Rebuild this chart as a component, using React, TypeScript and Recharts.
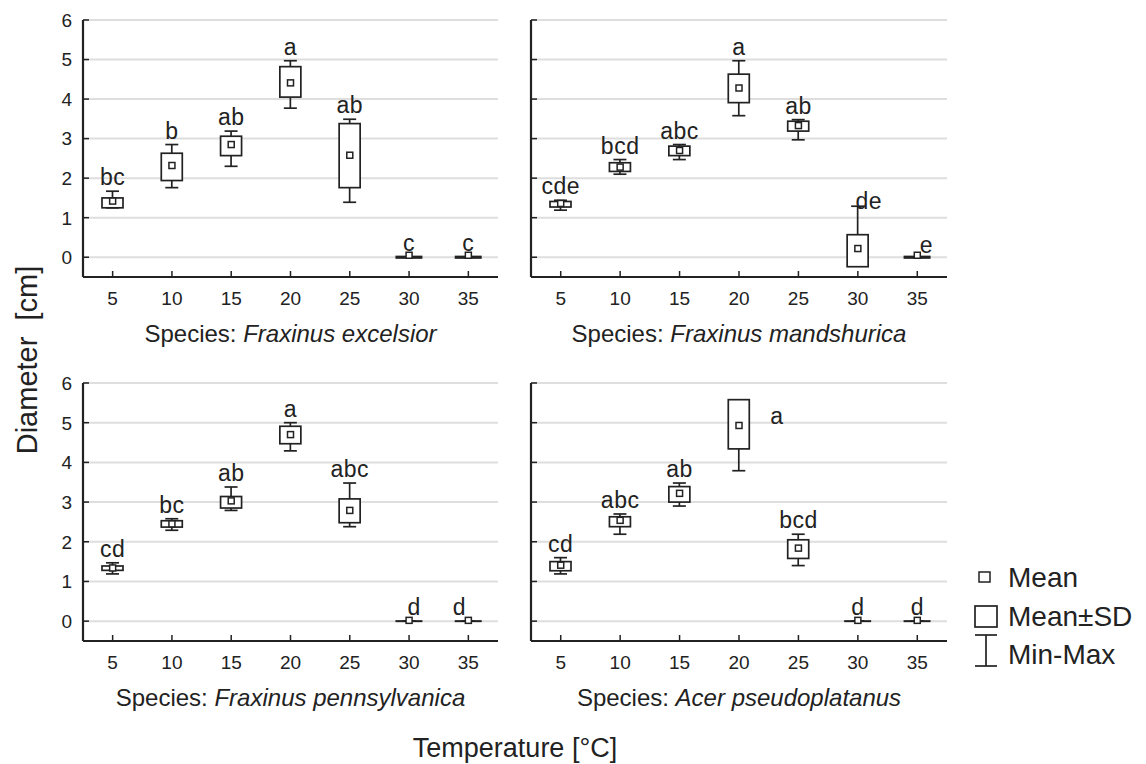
import React from "react";
import { ComposedChart, Bar, Scatter, XAxis, YAxis, CartesianGrid } from "recharts";

// temperatures on the x axis (°C)
const TEMPS = [5, 10, 15, 20, 25, 30, 35];
const Y_TICKS = [0, 1, 2, 3, 4, 5, 6];

// Fraxinus excelsior
const FE_MEAN = [1.42, 2.32, 2.85, 4.41, 2.58, 0.05, 0.05];
const FE_SD_LO = [1.25, 1.94, 2.57, 4.05, 1.76, 0, 0];
const FE_SD_HI = [1.5, 2.63, 3.06, 4.82, 3.38, 0, 0];
const FE_MIN = [1.25, 1.76, 2.3, 3.77, 1.39, 0, 0];
const FE_MAX = [1.67, 2.85, 3.19, 4.97, 3.49, 0, 0];
const FE_LETTERS = ["bc", "b", "ab", "a", "ab", "c", "c"];

// Fraxinus mandshurica
const FM_MEAN = [1.36, 2.28, 2.7, 4.28, 3.33, 0.22, 0.05];
const FM_SD_LO = [1.27, 2.17, 2.57, 3.91, 3.19, -0.24, 0];
const FM_SD_HI = [1.41, 2.39, 2.81, 4.63, 3.44, 0.57, 0];
const FM_MIN = [1.19, 2.1, 2.47, 3.58, 2.97, 0, 0];
const FM_MAX = [1.44, 2.47, 2.85, 4.97, 3.48, 1.29, 0];
const FM_LETTERS = ["cde", "bcd", "abc", "a", "ab", "de", "e"];

// Fraxinus pennsylvanica
const FP_MEAN = [1.34, 2.45, 3.03, 4.7, 2.79, 0.02, 0.02];
const FP_SD_LO = [1.28, 2.37, 2.85, 4.47, 2.48, 0, 0];
const FP_SD_HI = [1.39, 2.53, 3.14, 4.91, 3.08, 0, 0];
const FP_MIN = [1.19, 2.29, 2.79, 4.29, 2.38, 0, 0];
const FP_MAX = [1.47, 2.58, 3.38, 5.0, 3.48, 0, 0];
const FP_LETTERS = ["cd", "bc", "ab", "a", "abc", "d", "d"];

// Acer pseudoplatanus
const AP_MEAN = [1.41, 2.54, 3.22, 4.93, 1.84, 0.02, 0.02];
const AP_SD_LO = [1.27, 2.38, 3.0, 4.34, 1.58, 0, 0];
const AP_SD_HI = [1.5, 2.63, 3.39, 5.58, 2.05, 0, 0];
const AP_MIN = [1.19, 2.19, 2.9, 3.79, 1.4, 0, 0];
const AP_MAX = [1.6, 2.7, 3.48, 5.5, 2.19, 0, 0];
const AP_LETTERS = ["cd", "abc", "ab", "a", "bcd", "d", "d"];

const FONT = "'Liberation Sans', Arial, Helvetica, sans-serif";
const INK = "#222";

const buildRows = (mean: number[], lo: number[], hi: number[], mn: number[], mx: number[], letters: string[]) =>
  TEMPS.map((t, i) => ({ t, mean: mean[i], sdLo: lo[i], sdHi: hi[i], min: mn[i], max: mx[i], letter: letters[i] }));

const PANELS = [
  { species: "Fraxinus excelsior", rows: buildRows(FE_MEAN, FE_SD_LO, FE_SD_HI, FE_MIN, FE_MAX, FE_LETTERS), left: 0, top: 0, labels: true, flat: 3.2 },
  { species: "Fraxinus mandshurica", rows: buildRows(FM_MEAN, FM_SD_LO, FM_SD_HI, FM_MIN, FM_MAX, FM_LETTERS), left: 521, top: 0, labels: false, flat: 3.2 },
  { species: "Fraxinus pennsylvanica", rows: buildRows(FP_MEAN, FP_SD_LO, FP_SD_HI, FP_MIN, FP_MAX, FP_LETTERS), left: 0, top: 363, labels: true, flat: 2 },
  { species: "Acer pseudoplatanus", rows: buildRows(AP_MEAN, AP_SD_LO, AP_SD_HI, AP_MIN, AP_MAX, AP_LETTERS), left: 521, top: 363, labels: false, flat: 2 },
];

// hand placement of a few letters that sit beside the whisker instead of on top
const NUDGE: Record<string, { dx: number; dy: number }> = {
  "1-30": { dx: 11, dy: 9 },
  "1-35": { dx: 9, dy: 2 },
  "2-30": { dx: 5, dy: 0 },
  "2-35": { dx: -9, dy: 0 },
  "3-20": { dx: 38, dy: 27 },
};

const BottomTick = (p: any) => (
  <g>
    <line x1={p.x} x2={p.x} y1={p.y} y2={p.y - 6} stroke={INK} strokeWidth={1.5} />
    <text x={p.x} y={p.y + 28} textAnchor="middle" fontSize={19} fill={INK} fontFamily={FONT}>
      {p.payload.value}
    </text>
  </g>
);

const TopTick = (p: any) => <line x1={p.x} x2={p.x} y1={p.y} y2={p.y + 6} stroke={INK} strokeWidth={1.5} />;

const makeLeftTick = (labels: boolean) => (p: any) => (
  <g>
    <line x1={p.x} x2={p.x + 6} y1={p.y} y2={p.y} stroke={INK} strokeWidth={1.5} />
    {labels && (
      <text x={p.x - 11} y={p.y} dy="0.36em" textAnchor="end" fontSize={19} fill={INK} fontFamily={FONT}>
        {p.payload.value}
      </text>
    )}
  </g>
);

const RightTick = (p: any) => <line x1={p.x} x2={p.x - 6} y1={p.y} y2={p.y} stroke={INK} strokeWidth={1.5} />;

const makeBoxShape = (flat: number) => (p: any) => {
  const top = Math.min(p.y, p.y + p.height);
  const h = Math.abs(p.height);
  if (h < 0.5) {
    const cx = p.x + p.width / 2;
    return <line x1={cx - p.width / 2 - 3} x2={cx + p.width / 2 + 3} y1={top} y2={top} stroke={INK} strokeWidth={flat} />;
  }
  return <rect x={p.x} y={top} width={p.width} height={h} fill="#fff" stroke={INK} strokeWidth={1.7} />;
};

const WhiskerShape = (p: any) => {
  const top = Math.min(p.y, p.y + p.height);
  const bot = top + Math.abs(p.height);
  const cx = p.x + p.width / 2;
  return (
    <g stroke={INK} strokeWidth={1.7}>
      <line x1={cx} x2={cx} y1={top} y2={bot} />
      <line x1={p.x} x2={p.x + p.width} y1={top} y2={top} />
      <line x1={p.x} x2={p.x + p.width} y1={bot} y2={bot} />
    </g>
  );
};

const MeanShape = (p: any) => <rect x={p.cx - 3} y={p.cy - 3} width={6} height={6} fill="#fff" stroke={INK} strokeWidth={1.5} />;

const makeLetterShape = (panel: number) => (p: any) => {
  const n = NUDGE[`${panel}-${p.payload.t}`] || { dx: 0, dy: 0 };
  return (
    <text x={p.cx + n.dx} y={p.cy - 6 + n.dy} textAnchor="middle" fontSize={23} fill={INK} fontFamily={FONT} letterSpacing={0.5}>
      {p.payload.letter}
    </text>
  );
};

function Panel({ idx }: { idx: number }) {
  const cfg = PANELS[idx];
  const yW = cfg.labels ? 83 : 10;
  const width = yW + (cfg.labels ? 415 : 416) + 10;
  const height = cfg.top === 0 ? 317 : 318;
  const frame = { stroke: INK, strokeWidth: 2.2 };
  const dom: [number, number] = [2.5, 37.5];
  return (
    <div style={{ position: "absolute", left: cfg.left, top: cfg.top }}>
      <ComposedChart width={width} height={height} data={cfg.rows} margin={{ top: 20, right: 10, left: 0, bottom: 0 }}>
        <CartesianGrid vertical={false} stroke="#dedede" strokeWidth={2} />
        <XAxis dataKey="t" type="number" domain={dom} ticks={TEMPS} interval={0} allowDataOverflow height={40}
          axisLine={frame} tickLine={false} tickSize={0} tickMargin={0} tick={BottomTick} />
        <XAxis xAxisId="top" orientation="top" dataKey="t" type="number" domain={dom} ticks={TEMPS} interval={0} allowDataOverflow height={0}
          axisLine={frame} tickLine={false} tickSize={0} tickMargin={0} tick={TopTick} />
        <XAxis xAxisId="wh" dataKey="t" type="number" domain={dom} allowDataOverflow hide />
        <XAxis xAxisId="box" dataKey="t" type="number" domain={dom} allowDataOverflow hide />
        <YAxis type="number" domain={[-0.5, 6]} ticks={Y_TICKS} interval={0} allowDataOverflow width={yW}
          axisLine={frame} tickLine={false} tickSize={0} tickMargin={0} tick={makeLeftTick(cfg.labels)} />
        <YAxis yAxisId="r" orientation="right" type="number" domain={[-0.5, 6]} ticks={Y_TICKS} interval={0} allowDataOverflow width={0}
          axisLine={frame} tickLine={false} tickSize={0} tickMargin={0} tick={RightTick} />
        <Bar xAxisId="wh" dataKey={(d: any) => [d.min, d.max]} barSize={13} shape={WhiskerShape} isAnimationActive={false} />
        <Bar xAxisId="box" dataKey={(d: any) => [d.sdLo, d.sdHi]} barSize={21} shape={makeBoxShape(cfg.flat)} isAnimationActive={false} />
        <Scatter dataKey="mean" shape={MeanShape} isAnimationActive={false} />
        <Scatter dataKey="max" shape={makeLetterShape(idx)} isAnimationActive={false} />
      </ComposedChart>
    </div>
  );
}

export default function App() {
  const titles = [
    { x: 290.5, y: 342 },
    { x: 739, y: 342 },
    { x: 290.5, y: 706 },
    { x: 739, y: 706 },
  ];
  return (
    <div style={{ position: "absolute", left: 0, top: 0, width: 1146, height: 764, background: "#fff", fontFamily: FONT }}>
      {PANELS.map((_, i) => (
        <Panel key={i} idx={i} />
      ))}
      <svg width={1146} height={764} style={{ position: "absolute", left: 0, top: 0, pointerEvents: "none" }}>
        {PANELS.map((p, i) => (
          <text key={i} x={titles[i].x} y={titles[i].y} textAnchor="middle" fontSize={24} fill={INK} fontFamily={FONT}>
            Species: <tspan fontStyle="italic">{p.species}</tspan>
          </text>
        ))}
        <text x={515} y={757} textAnchor="middle" fontSize={27} fill={INK} fontFamily={FONT}>
          Temperature [°C]
        </text>
        <text transform="translate(37,360) rotate(-90)" textAnchor="middle" fontSize={29} fill={INK} fontFamily={FONT} style={{ whiteSpace: "pre" }}>
          {"Diameter  [cm]"}
        </text>
        {/* legend */}
        <rect x={979} y={572} width={11} height={10} fill="#fff" stroke={INK} strokeWidth={1.5} />
        <text x={1008} y={587} fontSize={28} fill={INK} fontFamily={FONT}>Mean</text>
        <rect x={975} y={606} width={22} height={21} fill="#fff" stroke={INK} strokeWidth={1.7} />
        <text x={1008} y={626} fontSize={28} fill={INK} fontFamily={FONT}>Mean±SD</text>
        <g stroke={INK} strokeWidth={1.7}>
          <line x1={986} x2={986} y1={635} y2={666} />
          <line x1={975} x2={997} y1={635} y2={635} />
          <line x1={975} x2={997} y1={666} y2={666} />
        </g>
        <text x={1008} y={664} fontSize={28} fill={INK} fontFamily={FONT}>Min-Max</text>
      </svg>
    </div>
  );
}
